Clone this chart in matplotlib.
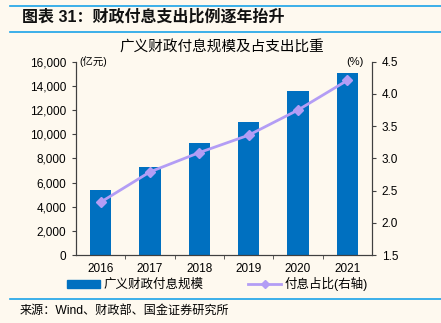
import numpy as np
import matplotlib
matplotlib.use("Agg")
import matplotlib.pyplot as plt
from matplotlib.ticker import FuncFormatter, FixedLocator
from matplotlib.lines import Line2D

plt.rcParams['font.family'] = ['Liberation Sans', 'Noto Sans CJK SC', 'DejaVu Sans']

years = ["2016", "2017", "2018", "2019", "2020", "2021"]
interest = [5400, 7300, 9250, 11000, 13550, 15050]   # 亿元
share = [2.32, 2.79, 3.09, 3.36, 3.75, 4.21]          # %

bg = "#FEF9EF"
barColor = "#0070C0"
lineColor = "#B39DF5"
spineColor = "#404040"

fig = plt.figure(figsize=(4.41, 3.23), dpi=100, facecolor=bg)
ax = fig.add_axes([76/441, 1-255/323, 296/441, (255-61.7)/323])
ax.set_facecolor(bg)
x = np.arange(len(years))
ax.bar(x, interest, width=0.43, color=barColor, zorder=2)
ax.set_xlim(-0.5, 5.5)
ax.set_ylim(0, 16000)
ax.set_yticks(np.arange(0, 16001, 2000))
ax.yaxis.set_major_formatter(FuncFormatter(lambda v, p: f"{int(v):,}"))
ax.set_xticks(x)
ax.set_xticklabels(years)
ax.xaxis.set_minor_locator(FixedLocator(np.arange(0.5, 5, 1)))
ax.tick_params(axis='x', which='major', length=0, labelsize=8.5, pad=6)
ax.tick_params(axis='x', which='minor', length=3, color=spineColor)
ax.tick_params(axis='y', length=3, color=spineColor, labelsize=8.5, pad=4)
ax.spines["top"].set_visible(False)
for s in ["left", "bottom", "right"]:
    ax.spines[s].set_color(spineColor)

ax2 = ax.twinx()
ax2.plot(x, share, color=lineColor, lw=2, marker='D', ms=5, zorder=3)
ax2.set_ylim(1.5, 4.5)
ax2.set_yticks(np.arange(1.5, 4.51, 0.5))
ax2.yaxis.set_major_formatter(FuncFormatter(lambda v, p: f"{v:.1f}"))
ax2.tick_params(axis='y', length=3, color=spineColor, labelsize=8.5, pad=4)
ax2.spines["top"].set_visible(False)
for s in ["left", "bottom", "right"]:
    ax2.spines[s].set_color(spineColor)

# titles and unit labels
fig.text(22/441, 1-17/323, "图表 31：财政付息支出比例逐年抬升", fontsize=11.5, fontweight='bold',
         ha='left', va='center', color="#111111")
fig.text(222/441, 1-48/323, "广义财政付息规模及占支出比重", fontsize=10.5, ha='center', va='center')
fig.text(79/441, 1-62/323, "(亿元)", fontsize=7.5, ha='left', va='center')
fig.text(364/441, 1-62/323, "(%)", fontsize=8, ha='right', va='center')
fig.text(20/441, 1-311/323, "来源：Wind、财政部、国金证券研究所", fontsize=8.7, ha='left', va='center')

# rules
for yy in [6, 31.5, 299]:
    fig.add_artist(Line2D([10/441, 1], [1-yy/323, 1-yy/323], color="#1AA3E8", lw=1.2))

# legend
handles = [plt.Rectangle((0, 0), 1, 1, color=barColor),
           Line2D([], [], color=lineColor, lw=2, marker='D', ms=4)]
fig.legend(handles, ["广义财政付息规模", "付息占比(右轴)"], ncol=2, frameon=False,
           loc='center', bbox_to_anchor=(0.493, 1-284/323), fontsize=9,
           handlelength=2.6, handleheight=0.6, columnspacing=3.6, handletextpad=0.3)

fig.savefig("out.png", dpi=100, facecolor=bg)
